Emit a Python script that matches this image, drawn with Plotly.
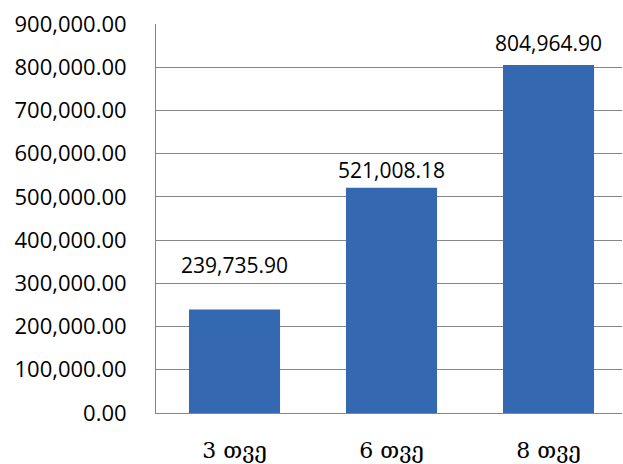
import plotly.graph_objects as go

categories = ["3 თვე", "6 თვე", "8 თვე"]
values = [239735.90, 521008.18, 804964.90]
value_labels = ["239,735.90", "521,008.18", "804,964.90"]
tick_vals = [0, 100000, 200000, 300000, 400000, 500000, 600000, 700000, 800000, 900000]
tick_text = ["0.00", "100,000.00", "200,000.00", "300,000.00", "400,000.00",
             "500,000.00", "600,000.00", "700,000.00", "800,000.00", "900,000.00"]
label_shift = [44, 18, 22]

fig = go.Figure()
fig.add_trace(go.Bar(
    x=categories, y=values, width=0.58,
    marker=dict(color="#3469B2", line=dict(width=0)),
))
for c, v, t, s in zip(categories, values, value_labels, label_shift):
    fig.add_annotation(x=c, y=v, text=t, showarrow=False, yshift=s,
                       font=dict(family="Open Sans", size=21, color="#000000"))

fig.update_layout(
    width=623, height=464,
    margin=dict(l=156, r=1, t=24, b=51),
    paper_bgcolor="white", plot_bgcolor="white",
    showlegend=False,
    xaxis=dict(range=[-0.5, 2.468], showgrid=False, showline=True, linecolor="#868686",
               linewidth=1, ticks="", ticklen=0, ticklabelstandoff=18,
               tickfont=dict(family="DejaVu Serif", size=22, color="#000000")),
    yaxis=dict(range=[0, 900000], tickvals=tick_vals, ticktext=tick_text,
               showgrid=True, gridcolor="#868686", gridwidth=1,
               showline=True, linecolor="#868686", linewidth=1,
               zeroline=False, ticks="", ticklabelstandoff=24,
               tickfont=dict(family="Open Sans", size=22, color="#000000")),
)
fig.write_html("out.html")
